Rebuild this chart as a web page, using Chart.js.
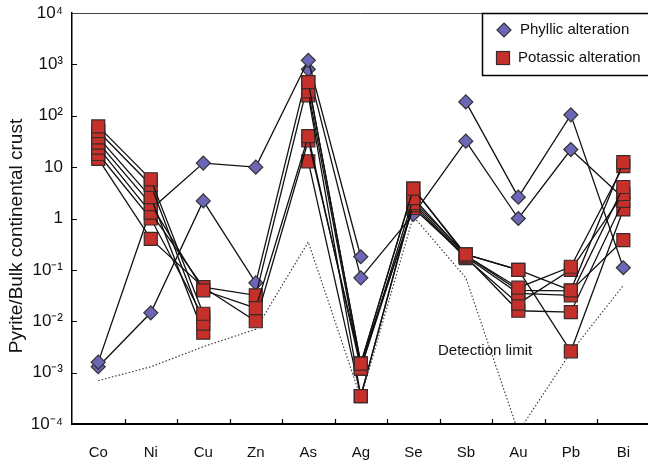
<!DOCTYPE html>
<html>
<head>
<meta charset="utf-8">
<script src="https://cdn.jsdelivr.net/npm/chart.js@4.4.1/dist/chart.umd.min.js"></script>
<style>
    html, body { margin: 0; padding: 0; background: #fff; overflow: hidden; }
    #wrap { width: 660px; height: 460px; }
</style>
</head>
<body>
<div id="wrap"><canvas id="chart" width="660" height="460"></canvas></div>
<script>
// Elementos (eixo x)
const elements = ['Co', 'Ni', 'Cu', 'Zn', 'As', 'Ag', 'Se', 'Sb', 'Au', 'Pb', 'Bi'];

// Ticks do eixo y (log)
const yTickValues = [1e-4, 1e-3, 1e-2, 1e-1, 1, 10, 100, 1000, 10000];
const yTickLabels = ['10⁻⁴', '10⁻³', '10⁻²', '10⁻¹', '1', '10', '10²', '10³', '10⁴'];

// Alteração fílica
const phyllicA = [1.6e-3, 1.5, 12, 10, 1200, 0.18, null, 186, 2.6, 104, 0.11];
const phyllicB = [1.3e-3, 0.0146, 2.2, 0.056, 800, 0.07, 1.2, 32, 1.0, 22, 2.5];

// Alteração potássica
const potassic1 = [62, 5.8, 0.014, null, 450, 1.5e-3, 3.8, 0.2, 0.1, 0.04, 12.5];
const potassic2 = [50, 4.5, 0.009, null, 300, 1.2e-3, 2.5, 0.19, 0.045, 0.115, 10.5];
const potassic3 = [38, 2.6, 0.006, null, 250, 3.5e-4, 2.0, 0.18, 0.035, 0.032, 4.1];
const potassic4 = [30, 1.9, 0.04, 0.018, 40, 1.2e-3, 1.8, 0.17, 0.022, 0.1, 3.0];
const potassic5 = [24, 1.3, 0.046, 0.01, 33, 1.5e-3, 1.6, 0.18, 0.016, 0.015, 2.2];
const potassic6 = [18, 1.0, 0.012, null, 13, 3.5e-4, 2.2, 0.2, 0.1, 0.0026, 1.5];
const potassic7 = [14.5, 0.4, 0.046, 0.032, 450, 1.5e-3, 3.8, 0.19, 0.04, 0.039, 0.38];

// Limite de detecção
const detectionLimit = [7e-4, 1.3e-3, 3.2e-3, 7e-3, 0.35, 3.2e-4, 1.1, 0.07, 7e-5, 2.5e-3, 0.05];

const legendLabels = ['Phyllic alteration', 'Potassic alteration'];
const detectionLabel = 'Detection limit';
const yTitle = 'Pyrite/Bulk continental crust';

const RED = '#c6302b';
const PURPLE = '#6b66b5';
const FONT = 'Arial, "Liberation Sans", sans-serif';

function potassicSet(data) {
    return {
        data,
        borderColor: '#111',
        borderWidth: 1.3,
        pointStyle: 'rect',
        pointRadius: 9.2,
        pointBackgroundColor: RED,
        pointBorderColor: '#3a2a2a',
        pointBorderWidth: 1.2,
        spanGaps: false
    };
}

function phyllicSet(data) {
    return {
        data,
        borderColor: '#111',
        borderWidth: 1.3,
        pointStyle: 'rectRot',
        pointRadius: 7,
        pointBackgroundColor: PURPLE,
        pointBorderColor: '#333',
        pointBorderWidth: 1.2,
        spanGaps: false
    };
}

const datasets = [
    potassicSet(potassic1), potassicSet(potassic2), potassicSet(potassic3),
    potassicSet(potassic4), potassicSet(potassic5), potassicSet(potassic6),
    potassicSet(potassic7),
    phyllicSet(phyllicA), phyllicSet(phyllicB),
    {
        data: detectionLimit,
        borderColor: '#333',
        borderWidth: 1.1,
        borderDash: [1.5, 2],
        pointRadius: 0
    }
];

// Moldura, ticks internos, legenda, título e rótulo do limite
const decorPlugin = {
    id: 'decor',
    afterDatasetsDraw(chart) {
        const ctx = chart.ctx;
        const { left, right, top, bottom } = chart.chartArea;
        const x = chart.scales.x;
        const y = chart.scales.y;
        ctx.save();

        // linha superior
        ctx.strokeStyle = '#444';
        ctx.lineWidth = 1;
        ctx.beginPath();
        ctx.moveTo(left, top + 0.5);
        ctx.lineTo(right, top + 0.5);
        ctx.stroke();

        // ticks internos
        ctx.strokeStyle = '#000';
        ctx.lineWidth = 1.2;
        ctx.beginPath();
        yTickValues.slice(1, -1).forEach(v => {
            const py = Math.round(y.getPixelForValue(v)) + 0.5;
            ctx.moveTo(left, py);
            ctx.lineTo(left + 5, py);
        });
        for (let i = 0; i < elements.length - 1; i++) {
            const px = Math.round((x.getPixelForValue(i) + x.getPixelForValue(i + 1)) / 2) + 0.5;
            ctx.moveTo(px, bottom);
            ctx.lineTo(px, bottom - 5);
        }
        ctx.stroke();

        // título do eixo y
        ctx.fillStyle = '#111';
        ctx.save();
        ctx.translate(17, 236);
        ctx.rotate(-Math.PI / 2);
        ctx.font = '19px ' + FONT;
        ctx.textAlign = 'center';
        ctx.textBaseline = 'middle';
        ctx.fillText(yTitle, 0, 0);
        ctx.restore();

        // rótulo do limite de detecção
        ctx.font = '15px ' + FONT;
        ctx.textBaseline = 'middle';
        ctx.textAlign = 'left';
        ctx.fillText(detectionLabel, 438, 351);

        // legenda
        ctx.fillStyle = '#fff';
        ctx.fillRect(482, top, right - 482, 62);
        ctx.strokeStyle = '#000';
        ctx.lineWidth = 1.5;
        ctx.strokeRect(482.5, top + 0.5, right - 482, 62);

        ctx.fillStyle = PURPLE;
        ctx.strokeStyle = '#333';
        ctx.lineWidth = 1.2;
        ctx.beginPath();
        ctx.moveTo(504, 23);
        ctx.lineTo(511, 30);
        ctx.lineTo(504, 37);
        ctx.lineTo(497, 30);
        ctx.closePath();
        ctx.fill();
        ctx.stroke();

        ctx.fillStyle = RED;
        ctx.strokeStyle = '#3a2a2a';
        ctx.fillRect(496.5, 51.5, 13, 13);
        ctx.strokeRect(496.5, 51.5, 13, 13);

        ctx.fillStyle = '#111';
        ctx.fillText(legendLabels[0], 520, 30);
        ctx.fillText(legendLabels[1], 518, 58);
        ctx.restore();
    }
};

new Chart(document.getElementById('chart').getContext('2d'), {
    type: 'line',
    data: { labels: elements, datasets },
    options: {
        responsive: false,
        animation: false,
        events: [],
        layout: { padding: { top: 13, right: 0, bottom: 0, left: 0 } },
        plugins: {
            legend: { display: false },
            tooltip: { enabled: false }
        },
        scales: {
            x: {
                type: 'category',
                offset: true,
                grid: { display: false, offset: true, drawTicks: false },
                border: { display: true, color: '#000', width: 2 },
                ticks: {
                    color: '#111',
                    font: { size: 15, family: FONT },
                    padding: 20,
                    maxRotation: 0,
                    autoSkip: false
                },
                afterFit(scale) {
                    scale.height = 36;
                    scale.paddingLeft = 0;
                    scale.paddingRight = 0;
                }
            },
            y: {
                type: 'logarithmic',
                min: 1e-4,
                max: 1e4,
                grid: { display: false, drawTicks: false },
                border: { display: true, color: '#000', width: 1.5 },
                afterBuildTicks(scale) {
                    scale.ticks = yTickValues.map(v => ({ value: v, major: true }));
                },
                ticks: {
                    color: '#111',
                    font: { size: 17, family: FONT },
                    padding: 9,
                    callback: (value, index) => yTickLabels[index]
                },
                afterFit(scale) {
                    scale.width = 72;
                    scale.paddingTop = 0;
                    scale.paddingBottom = 0;
                }
            }
        }
    },
    plugins: [decorPlugin]
});
</script>
</body>
</html>
